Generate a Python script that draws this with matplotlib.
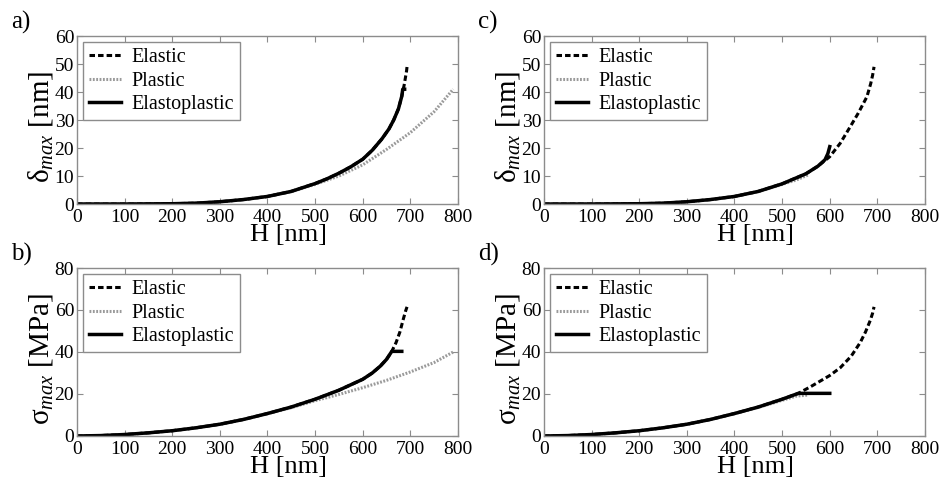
import matplotlib
matplotlib.use("Agg")
import matplotlib.pyplot as plt

plt.rcParams["font.family"] = ["Liberation Serif", "DejaVu Serif"]
plt.rcParams["mathtext.fontset"] = "custom"
plt.rcParams["mathtext.rm"] = "Liberation Serif"
plt.rcParams["mathtext.it"] = "Liberation Serif:italic"

# %% Data
# a) delta_max vs H
h_a_elastic = [0, 100, 200, 250, 300, 350, 400, 450, 500, 525, 550, 575, 600, 620, 640, 655, 665, 675, 682, 687, 690, 692, 693]
d_a_elastic = [0, 0, 0.1, 0.3, 0.8, 1.6, 2.7, 4.5, 7.3, 9, 11, 13.3, 16, 19.2, 23.2, 26.8, 30, 34, 38.5, 42.5, 45.5, 47.5, 49]
h_a_plastic = [0, 100, 200, 250, 300, 350, 400, 450, 500, 550, 600, 650, 700, 750, 790]
d_a_plastic = [0, 0, 0.1, 0.3, 0.8, 1.6, 2.7, 4.4, 7, 10, 14, 19.5, 25.5, 33, 41]
h_a_elastoplastic = [0, 100, 200, 250, 300, 350, 400, 450, 500, 525, 550, 575, 600, 620, 640, 655, 665, 675, 682, 684, 688]
d_a_elastoplastic = [0, 0, 0.1, 0.3, 0.8, 1.6, 2.7, 4.5, 7.3, 9, 11, 13.3, 16, 19.2, 23.2, 26.8, 30, 34, 38.5, 41, 41]

# c) delta_max vs H
h_c_elastic = [0, 100, 200, 250, 300, 350, 400, 450, 500, 550, 575, 600, 622, 643, 660, 678, 686, 690, 693]
d_c_elastic = [0, 0, 0.1, 0.3, 0.8, 1.6, 2.7, 4.5, 7.2, 10.8, 13.5, 16.9, 21.7, 27.6, 32.5, 38.3, 43, 46, 49]
h_c_plastic = [0, 100, 200, 250, 300, 350, 400, 450, 500, 530, 555]
d_c_plastic = [0, 0, 0.1, 0.3, 0.8, 1.6, 2.7, 4.4, 7, 8.6, 10.4]
h_c_elastoplastic = [0, 100, 200, 250, 300, 350, 400, 450, 500, 550, 575, 590, 596, 600]
d_c_elastoplastic = [0, 0, 0.1, 0.3, 0.8, 1.6, 2.7, 4.5, 7.2, 10.8, 13.5, 15.8, 18, 20.5]

# b) sigma_max vs H
h_b_elastic = [0, 50, 100, 150, 200, 250, 300, 350, 400, 450, 500, 550, 600, 620, 637, 650, 661, 670, 678, 685, 690, 693]
s_b_elastic = [0, 0.2, 0.7, 1.5, 2.5, 3.9, 5.6, 7.9, 10.7, 13.8, 17.5, 21.8, 27, 30, 33.3, 36.5, 40.3, 44.5, 49.5, 55.5, 59.5, 61.5]
h_b_plastic = [0, 50, 100, 150, 200, 250, 300, 350, 400, 450, 500, 550, 600, 650, 700, 750, 790]
s_b_plastic = [0, 0.2, 0.7, 1.5, 2.5, 3.9, 5.6, 7.9, 10.6, 13.5, 16.8, 19.8, 23, 26.5, 30.5, 35, 40]
h_b_elastoplastic = [0, 50, 100, 150, 200, 250, 300, 350, 400, 450, 500, 550, 600, 620, 637, 650, 661, 682]
s_b_elastoplastic = [0, 0.2, 0.7, 1.5, 2.5, 3.9, 5.6, 7.9, 10.7, 13.8, 17.5, 21.8, 27, 30, 33.3, 36.5, 40.3, 40.3]

# d) sigma_max vs H
h_d_elastic = [0, 50, 100, 150, 200, 250, 300, 350, 400, 450, 500, 534, 560, 600, 622, 645, 664, 675, 685, 690, 693]
s_d_elastic = [0, 0.2, 0.7, 1.5, 2.5, 3.9, 5.6, 7.9, 10.7, 13.8, 17.5, 20.3, 23.5, 28.8, 32.5, 38, 44.5, 49.5, 55, 58.5, 61.5]
h_d_plastic = [0, 50, 100, 150, 200, 250, 300, 350, 400, 450, 500, 530, 555]
s_d_plastic = [0, 0.2, 0.7, 1.5, 2.5, 3.9, 5.6, 7.9, 10.6, 13.6, 17, 19, 19.5]
h_d_elastoplastic = [0, 50, 100, 150, 200, 250, 300, 350, 400, 450, 500, 534, 600]
s_d_elastoplastic = [0, 0.2, 0.7, 1.5, 2.5, 3.9, 5.6, 7.9, 10.7, 13.8, 17.5, 20.3, 20.3]

x_ticks = [0, 100, 200, 300, 400, 500, 600, 700, 800]
delta_ticks = [0, 10, 20, 30, 40, 50, 60]
sigma_ticks = [0, 20, 40, 60, 80]

GREY = "#8c8c8c"

fig = plt.figure(figsize=(9.41, 4.79), dpi=100)

panels = [
    # letter, rect, curves, ylabel, yticks
    ("a)", [0.0818, 0.5741, 0.4049, 0.3507],
     (h_a_elastic, d_a_elastic, h_a_plastic, d_a_plastic, h_a_elastoplastic, d_a_elastoplastic),
     "δ$_{max}$ [nm]", delta_ticks),
    ("c)", [0.5781, 0.5741, 0.4049, 0.3507],
     (h_c_elastic, d_c_elastic, h_c_plastic, d_c_plastic, h_c_elastoplastic, d_c_elastoplastic),
     "δ$_{max}$ [nm]", delta_ticks),
    ("b)", [0.0818, 0.0898, 0.4049, 0.3507],
     (h_b_elastic, s_b_elastic, h_b_plastic, s_b_plastic, h_b_elastoplastic, s_b_elastoplastic),
     "σ$_{max}$ [MPa]", sigma_ticks),
    ("d)", [0.5781, 0.0898, 0.4049, 0.3507],
     (h_d_elastic, s_d_elastic, h_d_plastic, s_d_plastic, h_d_elastoplastic, s_d_elastoplastic),
     "σ$_{max}$ [MPa]", sigma_ticks),
]

for letter, rect, curves, ylabel, yticks in panels:
    ax = fig.add_axes(rect)
    h_el, y_el, h_pl, y_pl, h_ep, y_ep = curves
    ax.plot(h_el, y_el, color="black", lw=2.2, linestyle=(0, (1.8, 1.0)), label="Elastic")
    ax.plot(h_pl, y_pl, color="#9a9a9a", lw=2.2, linestyle=(0, (0.6, 0.5)), label="Plastic")
    ax.plot(h_ep, y_ep, color="black", lw=2.5, label="Elastoplastic")

    ax.set_xlim(0, 800)
    ax.set_ylim(yticks[0], yticks[-1])
    ax.set_xticks(x_ticks)
    ax.set_yticks(yticks)
    ax.tick_params(direction="in", length=4, width=0.8, color=GREY,
                   top=True, right=True, labelsize=14)
    ax.tick_params(axis="x", pad=3.5)
    ax.tick_params(axis="y", pad=2)
    for sp in ax.spines.values():
        sp.set_color(GREY)
        sp.set_linewidth(1.0)

    ax.set_xlabel("H [nm]", fontsize=19, labelpad=-1.3)
    ax.xaxis.label.set_x(0.556)
    ax.set_ylabel(ylabel, fontsize=21, labelpad=0)
    ax.yaxis.label.set_y(0.46)

    leg = ax.legend(loc="upper left", fontsize=14.5, frameon=True, fancybox=False,
                    handlelength=1.6, handletextpad=0.5, labelspacing=0.22,
                    borderpad=0.3, borderaxespad=0.3, framealpha=1)
    leg.get_frame().set_edgecolor(GREY)
    leg.get_frame().set_linewidth(1.0)

    fig.text(rect[0] - 0.07, rect[1] + rect[3] + 0.005, letter, fontsize=18,
             ha="left", va="bottom")

fig.savefig("out.png", dpi=100)
